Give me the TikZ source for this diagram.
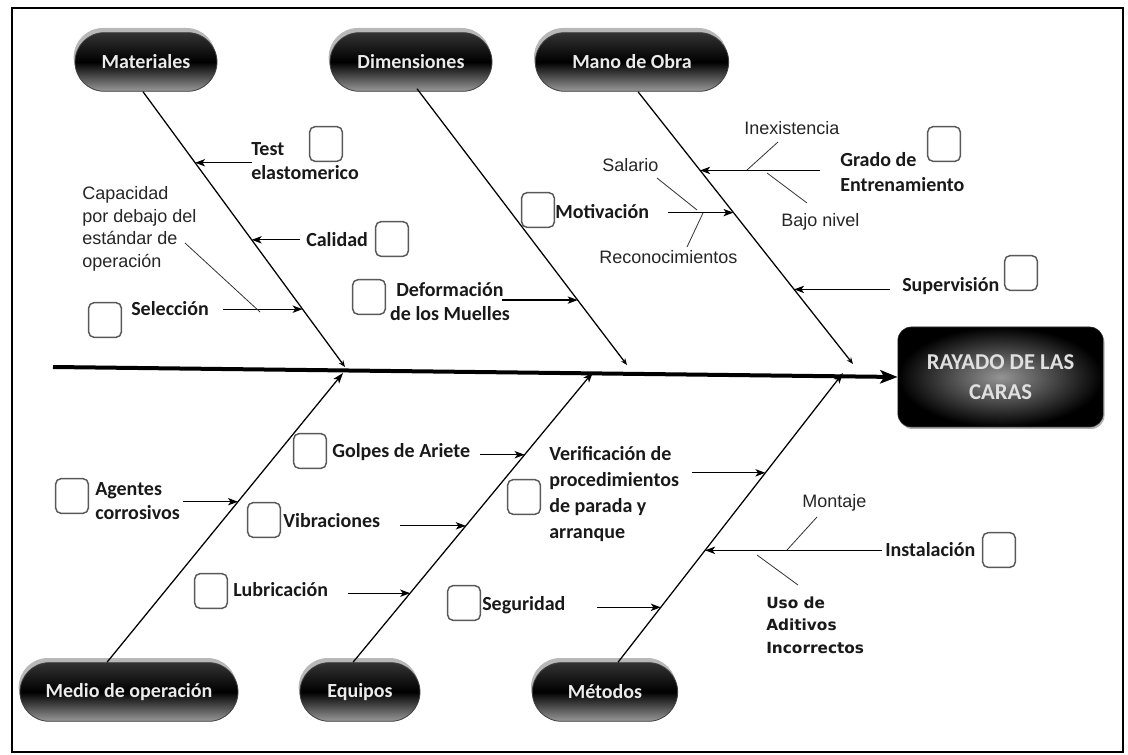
\documentclass[tikz,border=0pt]{standalone}
\usepackage{fontspec}
\setmainfont{Carlito}
\newfontfamily\arialf{Liberation Sans}
\newfontfamily\dejaf{DejaVu Sans}
\usetikzlibrary{arrows.meta,shapes.misc,shadows,calc}
\begin{document}
\begin{tikzpicture}[x=0.75pt,y=-0.75pt,
  pill/.style={rounded rectangle, draw=black!75, line width=0.6pt,
    top color=black!80, bottom color=black!40, middle color=black,
    text=white!92!black, font=\fontsize{15}{18}\selectfont\bfseries,
    minimum height=44pt, inner sep=0pt,
    drop shadow={shadow xshift=-1pt, shadow yshift=3.5pt, fill=black!28, opacity=1}},
  effect/.style={rectangle, rounded corners=10pt, draw=black!80,
    inner color=black!42, outer color=black, text=black!12,
    font=\fontsize{17}{22.5}\selectfont\bfseries, align=center,
    minimum width=154pt, minimum height=75pt,
    drop shadow={shadow xshift=1pt, shadow yshift=-1.5pt, fill=black!30, opacity=1}},
  cbox/.style={draw=black!65, line width=1.1pt, rounded corners=4pt, fill=white,
    minimum width=24.5pt, minimum height=26pt, inner sep=0pt},
  lab/.style={font=\fontsize{15}{20}\selectfont\bfseries, text=black!90, inner sep=0pt, anchor=west, align=left},
  small/.style={font=\arialf\fontsize{13.5}{17}\selectfont, text=black!85, inner sep=0pt, anchor=west, align=left},
  uso/.style={font=\dejaf\fontsize{11.5}{17}\selectfont\bfseries, text=black!90, inner sep=0pt, anchor=west, align=left},
  bone/.style={line width=0.95pt, -{Stealth[length=5pt,width=4pt]}},
  ubone/.style={line width=0.95pt, -{Stealth[length=8pt,width=5.5pt,inset=2pt]}},
  sub/.style={line width=0.9pt, -{Stealth[length=7.5pt,width=5.5pt,inset=2pt]}},
  twig/.style={line width=0.6pt, black!80},
  spine/.style={line width=3pt, -{Stealth[length=13pt,width=10pt,inset=3pt]}}
]
\fill[white] (0,0) rectangle (1128,755);
\draw[line width=2.2pt] (12,8) rectangle (1123,752);

% head and category nodes
\node[effect] (eff) at (1000.5,377) {RAYADO DE LAS\\CARAS};
\node[pill, minimum width=106.5pt] (mat) at (146,62) {Materiales};
\node[pill, minimum width=121.5pt] (dim) at (411,62) {Dimensiones};
\node[pill, minimum width=145pt] (man) at (632,62) {Mano de Obra};
\node[pill, minimum width=163.5pt] (med) at (129,692) {Medio de operación};
\node[pill, minimum width=90pt] (equ) at (360,692) {Equipos};
\node[pill, minimum width=109pt] (met) at (605,692) {Métodos};

% spine
\coordinate (spS) at (53,367);
\draw[spine] (spS) -- (eff.west);

% bones
\coordinate (matS) at ($(mat.south)+(-3,0)$);
\coordinate (matE) at (345,367);
\coordinate (dimS) at ($(dim.south)+(6,-3)$);
\coordinate (dimE) at (627,365);
\coordinate (manS) at ($(man.south)+(6,0)$);
\coordinate (manE) at (853,364);
\coordinate (medS) at ($(med.north)+(-22,0)$);
\coordinate (medE) at (343,373);
\coordinate (equS) at ($(equ.north)+(-7,0)$);
\coordinate (equE) at (593,372);
\coordinate (metS) at ($(met.north)+(13,0)$);
\coordinate (metE) at (843,373);
\draw[bone] (matS) -- (matE);
\draw[bone] (dimS) -- (dimE);
\draw[bone] (manS) -- (manE);
\draw[ubone] (medS) -- (medE);
\draw[ubone] (equS) -- (equE);
\draw[ubone] (metS) -- (metE);

% tips on bones
\coordinate (tTest) at ($(matS)!0.258!(matE)$);
\coordinate (tCal) at ($(matS)!0.538!(matE)$);
\coordinate (tSel) at ($(matS)!0.79!(matE)$);
\coordinate (tDef) at ($(dimS)!0.765!(dimE)$);
\coordinate (tGra) at ($(manS)!0.289!(manE)$);
\coordinate (tMot) at ($(manS)!0.444!(manE)$);
\coordinate (tSup) at ($(manS)!0.726!(manE)$);
\coordinate (tAge) at ($(medS)!0.555!(medE)$);
\coordinate (tGol) at ($(equS)!0.715!(equE)$);
\coordinate (tVib) at ($(equS)!0.47!(equE)$);
\coordinate (tLub) at ($(equS)!0.238!(equE)$);
\coordinate (tVer) at ($(metS)!0.655!(metE)$);
\coordinate (tIns) at ($(metS)!0.387!(metE)$);
\coordinate (tSeg) at ($(metS)!0.19!(metE)$);

% Materiales
\node[lab] (test) at (251,161) {Test\\[-2pt]elastomerico};
\node[cbox] (cTest) at (326,144) {};
\draw[sub] (tTest -| 252,0) -- (tTest);
\node[lab] (cal) at (306,240) {Calidad};
\node[cbox] (cCal) at (392,239) {};
\draw[sub] (tCal -| 300,0) -- (tCal);
\node[small] (capa) at (82,229) {Capacidad\\por debajo del\\estándar de\\operación};
\node[lab] (sel) at (131,309) {Selección};
\node[cbox] (cSel) at (105,320) {};
\draw[sub] (tSel -| 223,0) -- (tSel);
\coordinate (capA) at (185,243);
\coordinate (capB) at (260,312);
\draw[twig] (capA) -- (capB);

% Dimensiones
\node[lab, anchor=center, align=center] (def) at (450,302) {Deformación\\[-2pt]de los Muelles};
\node[cbox] (cDef) at (369,297) {};
\draw[sub] (tDef -| 502,0) -- (tDef);

% Mano de Obra
\node[lab] (mot) at (555,212) {Motivación};
\node[cbox] (cMot) at (538,210) {};
\draw[sub] (tMot -| 668,0) -- (tMot);
\node[small] (sal) at (602,165) {Salario};
\node[small] (rec) at (599,257) {Reconocimientos};
\coordinate (salA) at (657,178); \coordinate (salB) at (697,210);
\coordinate (recA) at (687,247); \coordinate (recB) at (703,213);
\draw[twig] (salA) -- (salB);
\draw[twig] (recA) -- (recB);
\node[lab] (gra) at (840,172) {Grado de\\[-1pt]Entrenamiento};
\node[cbox] (cGra) at (944,144) {};
\draw[sub] (tGra -| 820,0) -- (tGra);
\node[small] (inex) at (744,128) {Inexistencia};
\node[small] (bajo) at (781,222) {Bajo nivel};
\coordinate (inA) at (778,142); \coordinate (inB) at (747,170);
\coordinate (bjA) at (767,173); \coordinate (bjB) at (807,203);
\draw[twig] (inA) -- (inB);
\draw[twig] (bjA) -- (bjB);
\node[lab] (sup) at (902,286) {Supervisión};
\node[cbox] (cSup) at (1021,273) {};
\draw[sub] (tSup -| 890,0) -- (tSup);

% Medio de operacion
\node[lab] (age) at (95,501) {Agentes\\[-2pt]corrosivos};
\node[cbox] (cAge) at (72,496) {};
\draw[sub] (tAge -| 183,0) -- (tAge);

% Equipos
\node[lab] (gol) at (332,452) {Golpes de Ariete};
\node[cbox] (cGol) at (310,451) {};
\draw[sub] (tGol -| 480,0) -- (tGol);
\node[lab] (vib) at (283,521) {Vibraciones};
\node[cbox] (cVib) at (264,520) {};
\draw[sub] (tVib -| 400,0) -- (tVib);
\node[lab] (lub) at (233,590) {Lubricación};
\node[cbox] (cLub) at (211,591) {};
\draw[sub] (tLub -| 348,0) -- (tLub);

% Metodos
\node[lab, font=\fontsize{15}{19.5}\selectfont\bfseries] (ver) at (549,494) {Verificación de\\procedimientos\\de parada y\\arranque};
\node[cbox] (cVer) at (524,497) {};
\draw[sub] (tVer -| 692,0) -- (tVer);
\node[lab] (seg) at (482,605) {Seguridad};
\node[cbox] (cSeg) at (464,603) {};
\draw[sub] (tSeg -| 597,0) -- (tSeg);
\node[lab] (ins) at (885,550) {Instalación};
\node[cbox] (cIns) at (999,550) {};
\draw[sub] (tIns -| 882,0) -- (tIns);
\node[small] (mon) at (802,503) {Montaje};
\node[uso] (uso) at (766,625) {Uso de\\Aditivos\\Incorrectos};
\coordinate (moA) at (817,517); \coordinate (moB) at (787,550);
\coordinate (usA) at (757,555); \coordinate (usB) at (798,585);
\draw[twig] (moA) -- (moB);
\draw[twig] (usA) -- (usB);
\end{tikzpicture}
\end{document}
